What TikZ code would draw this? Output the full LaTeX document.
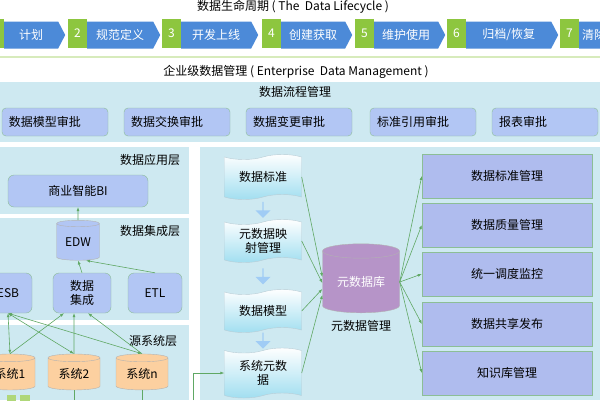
\documentclass[tikz,border=0pt]{standalone}
\usepackage{fontspec}
\setmainfont{Noto Sans CJK SC}
\usetikzlibrary{shapes.geometric,shapes.symbols,shapes.arrows,arrows.meta,positioning}

\definecolor{lifegreen}{RGB}{141,198,63}
\definecolor{lifeblue}{RGB}{76,138,216}
\definecolor{panelblue}{RGB}{206,233,241}
\definecolor{boxblue}{RGB}{178,198,244}
\definecolor{boxedge}{RGB}{140,190,150}
\definecolor{linkgreen}{RGB}{96,168,100}
\definecolor{cylorange}{RGB}{252,208,160}
\definecolor{cylpurple}{RGB}{182,148,200}
\definecolor{docblue}{RGB}{160,222,240}

\begin{document}
\begin{tikzpicture}[x=1pt,y=-1pt,
    font=\fontsize{12}{14}\selectfont,
    num/.style={fill=lifegreen,text=white,minimum width=19pt,minimum height=29pt,inner sep=0pt},
    phase/.style={signal,signal to=east,signal pointer angle=125,fill=lifeblue,text=white,
        minimum height=27pt,inner sep=0pt,anchor=west},
    approve/.style={rounded corners=4pt,draw=boxedge,fill=boxblue,minimum width=106pt,
        minimum height=28pt,text width=92pt,align=left,inner sep=7pt},
    layerbox/.style={rounded corners=6pt,draw=boxedge,fill=boxblue,minimum height=40pt,align=center},
    db/.style={cylinder,shape border rotate=90,aspect=0.25,draw=gray!60,inner sep=0pt},
    doc/.style={tape,draw=cyan!30!gray!50,top color=white,bottom color=docblue,
        minimum width=77pt,align=center,inner sep=2pt},
    fat/.style={single arrow,shape border rotate=270,fill=boxblue!90!cyan,draw=none,
        minimum height=16pt,minimum width=15pt,single arrow head extend=2pt,inner sep=0pt},
    mgr/.style={draw=boxedge,fill=boxblue!95!violet,minimum width=170pt,minimum height=44pt},
    link/.style={draw=linkgreen,line width=0.6pt,-{Latex[length=4pt,width=3pt]}},
    linkboth/.style={draw=linkgreen,line width=0.6pt,{Latex[length=4pt,width=3pt]}-{Latex[length=4pt,width=3pt]}}
]
\useasboundingbox (0,0) rectangle (600,400);
\fill[white] (0,0) rectangle (600,400);

% lifecycle
\node (lifetitle) at (293,7) {数据生命周期 ( The\ \ Data Lifecycle )};
\foreach \i/\gx/\ex/\txt in {1/-15/65/计划, 2/68/160/规范定义, 3/162/258/开发上线,
    4/262/352/创建获取, 5/355/445/维护使用, 6/447/558/{归档/恢复}, 7/560/616/清除} {
  \node[phase,minimum width={\ex-\gx-19}] (p\i) at (\gx+19,35) {\txt};
  \node[num] (n\i) at (\gx+9.5,33) {\i};
}
\draw[lifegreen!35,line width=2.5pt] (0,57) -- (600,57);

% panels
\fill[panelblue] (0,82) rectangle (600,142);
\fill[panelblue] (0,147) rectangle (189,214);
\fill[panelblue] (0,218) rectangle (189,320);
\fill[panelblue] (0,325) rectangle (189,400);
\fill[panelblue] (200,147) rectangle (600,400);

\node (edmtitle) at (296,72) {企业级数据管理 ( Enterprise\ \ Data Management )};
\node (flowlbl) at (295,92) {数据流程管理};
\foreach \i/\x/\txt in {1/55/数据模型审批, 2/177/数据交换审批, 3/299/数据变更审批,
    4/423/标准引用审批, 5/545/报表审批}
  \node[approve] (a\i) at (\x,122) {\txt};

% left column
\node (applbl) at (150,160) {数据应用层};
\node (intlbl) at (150,231) {数据集成层};
\node (srclbl) at (153,341) {源系统层};

\node[layerbox,minimum width=140pt,minimum height=32pt] (bi) at (78,191) {商业智能BI};
\node[db,fill=boxblue,minimum width=43pt,minimum height=40pt] (edw) at (78,242) {EDW};
\node[layerbox,minimum width=48pt] (esb) at (8,293) {ESB};
\node[layerbox,minimum width=58pt] (integ) at (82,293) {数据\\集成};
\node[layerbox,minimum width=54pt] (etl) at (155,293) {ETL};
\node[db,fill=cylorange,minimum width=50pt,minimum height=36pt] (sys1) at (10,374) {系统1};
\node[db,fill=cylorange,minimum width=52pt,minimum height=36pt] (sys2) at (74,374) {系统2};
\node[db,fill=cylorange,minimum width=52pt,minimum height=36pt] (sysn) at (142,374) {系统n};
\fill[lifegreen!70] (7,395) rectangle (16,402);
\fill[lifegreen!70] (20,395) rectangle (30,402);

\draw[link] (edw.north) -- (bi.south);
\draw[link] (integ.north) -- (edw.south);
\draw[link] (etl.north) -- ([xshift=8pt]edw.south);
\draw[linkboth] (esb.south) -- (sys1.north);
\draw[linkboth] (esb.south) -- (sys2.north);
\draw[linkboth] (esb.south) -- (sysn.north);
\draw[link] (sys1.north) -- ([xshift=-18pt]integ.south);
\draw[link] (sys2.north) -- ([xshift=-8pt]integ.south);
\draw[link] (sysn.north) -- ([xshift=6pt]integ.south);
\draw[linkgreen,line width=0.6pt] (sys2.south) -- (sys2.south |- 0,400);
\draw[linkgreen,line width=0.6pt] (sysn.south) -- (sysn.south |- 0,400);

% metadata
\node[doc,minimum height=45pt] (std) at (263,177) {数据标准};
\node[doc,minimum height=43pt] (map) at (263,241) {元数据映\\射管理};
\node[doc,minimum height=43pt] (model) at (263,311) {数据模型};
\node[doc,minimum height=50pt] (sysmeta) at (263,373) {系统元数\\据};
\path (std.south) -- (map.north) node[midway,fat] (f1) {};
\path (map.south) -- (model.north) node[midway,fat] (f2) {};
\path (model.south) -- (sysmeta.north) node[midway,fat] (f3) {};

\node[db,fill=cylpurple,text=white,aspect=0.3,minimum width=77pt,minimum height=69pt] (meta) at (361,282) {元数据库};
\node[below=4pt of meta] (metalbl) {元数据管理};

\coordinate (feed) at (193,400);
\draw[link] (feed) |- (sysmeta.west);
\draw[link] (std.east) -- ([yshift=5pt]meta.west);
\draw[link] (map.east) -- ([yshift=-1pt]meta.west);
\draw[link] (model.east) -- ([yshift=-7pt]meta.west);
\draw[link] (sysmeta.east) -- ([yshift=-13pt]meta.west);

\foreach \i/\y/\txt in {1/176/数据标准管理, 2/225/数据质量管理, 3/274/统一调度监控,
    4/324/数据共享发布, 5/373/知识库管理} {
  \node[mgr] (m\i) at (507,\y) {\txt};
  \draw[link] (meta.east) -- (m\i.west);
}
\end{tikzpicture}
\end{document}
